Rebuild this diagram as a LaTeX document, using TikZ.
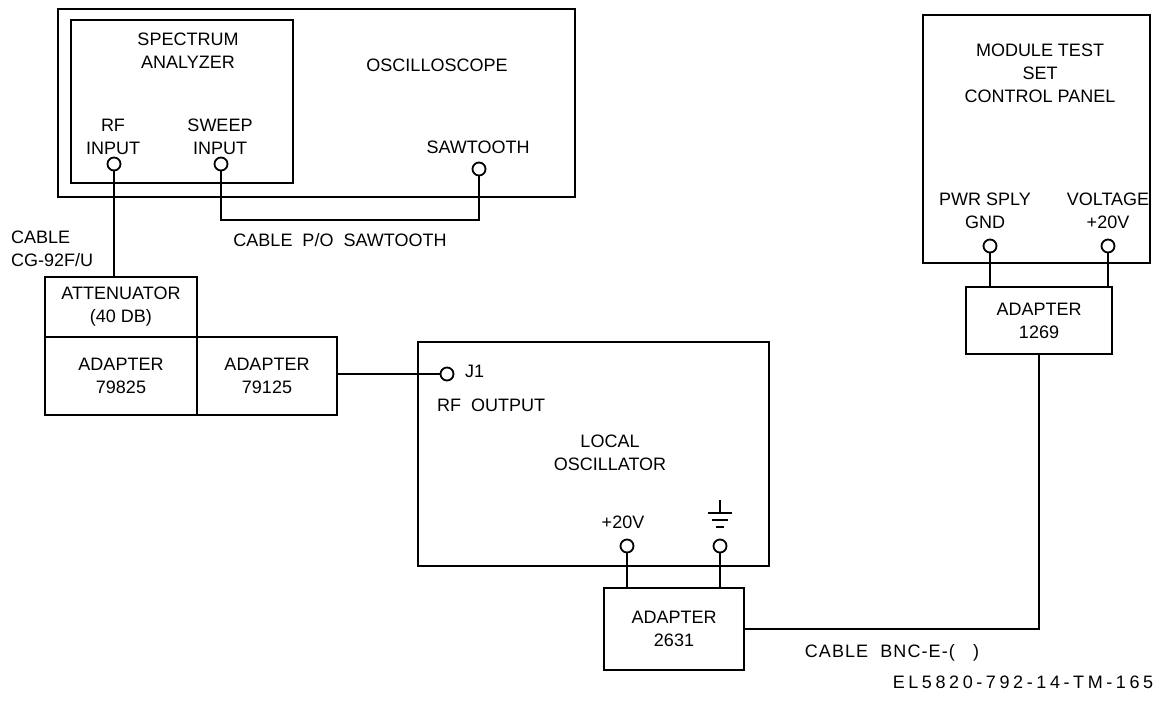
\documentclass[tikz,border=0pt]{standalone}
\usepackage{fontspec}
\setmainfont{Liberation Sans}
\usetikzlibrary{fit}

\begin{document}
\begin{tikzpicture}[x=0.5pt,y=-0.5pt,line width=1.15pt,
 box/.style={draw,inner sep=0pt,fit={#1}},
 jack/.style={circle,draw,line width=0.9pt,inner sep=0pt,minimum size=6.5pt},
 lbl/.style={align=center,inner sep=0pt,font=\fontsize{9}{11.5}\selectfont}]
 \useasboundingbox (0,0) rectangle (1161,706);
 \node[box={(58,9) (575,197)}] (osc) {}; \node[box={(71,20) (293,183)}] (sa) {};
 \node[box={(45,277) (197,337)}] (atten) {};
 \node[box={(45,337) (197,415)}] (ad79825) {}; \node[box={(197,337) (337,415)}] (ad79125) {};
 \node[box={(418,342) (769,566)}] (lo) {}; \node[box={(604,588) (744,670)}] (ad2631) {};
 \node[box={(923,15) (1150,263)}] (mts) {}; \node[box={(966,287) (1112,354)}] (ad1269) {};
 \node[jack] (rfin) at (114,164) {}; \node[jack] (sweep) at (221,164) {}; \node[jack] (saw) at (479,169) {};
 \node[jack] (j1) at (447,374) {};
 \node[jack] (plus) at (627,546) {}; \node[jack] (gnd) at (720,546) {};
 \node[jack] (pwrgnd) at (990,246) {}; \node[jack] (volt) at (1108,246) {};
 \draw (rfin.south) -- (rfin.south |- atten.north);
 \draw (sweep.south) -- (sweep.south |- 0,220) -| (saw.south);
 \draw (ad79125.east |- j1.west) -- (j1.west);
 \draw (plus.south) -- (plus.south |- ad2631.north); \draw (gnd.south) -- (gnd.south |- ad2631.north);
 \draw (pwrgnd.south) -- (pwrgnd.south |- ad1269.north); \draw (volt.south) -- (volt.south |- ad1269.north);
 \draw (ad2631.east) -| (ad1269.south);
 \draw (720,500) -- (720,513) (708,513) -- (732,513) (712,520) -- (728,520) (716,527) -- (724,527);
 \node[lbl] at (188,51) {SPECTRUM\\ANALYZER}; \node[lbl] at (437,65) {OSCILLOSCOPE};
 \node[lbl] at (113,137) {RF\\INPUT}; \node[lbl] at (220,137) {SWEEP\\INPUT};
 \node[lbl] at (478,147) {SAWTOOTH}; \node[lbl] at (340,240) {CABLE \ P/O \ SAWTOOTH};
 \node[lbl,anchor=west,align=left] at (10,249) {CABLE\\CG-92F/U};
 \node[lbl] at (atten) {ATTENUATOR\\(40 DB)};
 \node[lbl] at (ad79825) {ADAPTER\\79825}; \node[lbl] at (ad79125) {ADAPTER\\79125};
 \node[lbl,anchor=west] at (464,371) {J1}; \node[lbl,anchor=west] at (436,405) {RF \ OUTPUT};
 \node[lbl] at (610,453) {LOCAL\\OSCILLATOR}; \node[lbl] at (623,522) {+20V};
 \node[lbl] at (ad2631) {ADAPTER\\2631};
 \node[lbl] at (1040,73) {MODULE TEST\\SET\\CONTROL PANEL};
 \node[lbl] at (985,211) {PWR SPLY\\GND}; \node[lbl] at (1108,211) {VOLTAGE\\+20V};
 \node[lbl] at (ad1269) {ADAPTER\\1269};
 \node[lbl] at (892,653) {\addfontfeature{LetterSpace=6}CABLE \ BNC-E-( \ \ )};
 \node[lbl] at (1023,682) {\addfontfeature{LetterSpace=20}EL5820-792-14-TM-165};
\end{tikzpicture}
\end{document}
